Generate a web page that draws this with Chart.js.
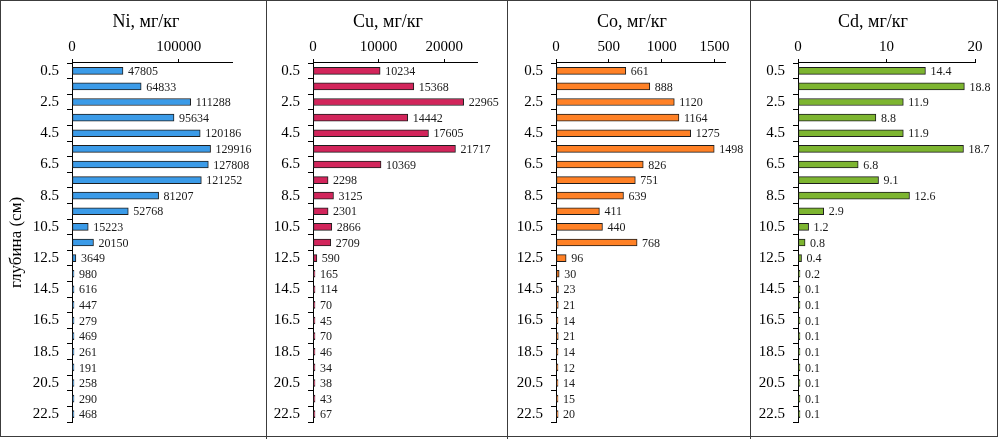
<!DOCTYPE html>
<html>
<head>
<meta charset="utf-8">
<script src="https://cdn.jsdelivr.net/npm/chart.js@4.4.1/dist/chart.umd.min.js"></script>
<style>
html,body{margin:0;padding:0;background:#fff;}
#wrap{position:relative;width:1000px;height:439px;overflow:hidden;background:#fff;}
canvas{position:absolute;top:0;}
.frame{position:absolute;left:0;top:0;width:996px;height:435px;border:1.5px solid #3c3c3c;}
.sep{position:absolute;top:0;height:439px;width:0;border-left:1.5px solid #3c3c3c;}
</style>
</head>
<body>
<div id="wrap">
  <div class="frame"></div>
  <div class="sep" style="left:266px"></div>
  <div class="sep" style="left:507px"></div>
  <div class="sep" style="left:750px"></div>
  <canvas id="c0" width="266" height="439" style="left:0px"></canvas>
  <canvas id="c1" width="242" height="439" style="left:266px"></canvas>
  <canvas id="c2" width="242" height="439" style="left:508px"></canvas>
  <canvas id="c3" width="248" height="439" style="left:750px"></canvas>
</div>
<script>
// ---- data ----
const depthLabels = ['0.5','1.5','2.5','3.5','4.5','5.5','6.5','7.5','8.5','9.5','10.5','11.5',
                     '12.5','13.5','14.5','15.5','16.5','17.5','18.5','19.5','20.5','21.5','22.5'];
const niValues = [47805, 64833, 111288, 95634, 120186, 129916, 127808, 121252, 81207, 52768, 15223, 20150,
                  3649, 980, 616, 447, 279, 469, 261, 191, 258, 290, 468];
const cuValues = [10234, 15368, 22965, 14442, 17605, 21717, 10369, 2298, 3125, 2301, 2866, 2709,
                  590, 165, 114, 70, 45, 70, 46, 34, 38, 43, 67];
const coValues = [661, 888, 1120, 1164, 1275, 1498, 826, 751, 639, 411, 440, 768,
                  96, 30, 23, 21, 14, 21, 14, 12, 14, 15, 20];
const cdValues = [14.4, 18.8, 11.9, 8.8, 11.9, 18.7, 6.8, 9.1, 12.6, 2.9, 1.2, 0.8,
                  0.4, 0.2, 0.1, 0.1, 0.1, 0.1, 0.1, 0.1, 0.1, 0.1, 0.1];
const panelTitles = ['Ni, мг/кг', 'Cu, мг/кг', 'Co, мг/кг', 'Cd, мг/кг'];
const yAxisTitle = 'глубина (см)';

const SERIF = "'Liberation Serif','Times New Roman',serif";

const valueLabels = {
  id: 'valueLabels',
  afterDatasetsDraw(chart) {
    const ctx = chart.ctx;
    const ds = chart.data.datasets[0];
    const meta = chart.getDatasetMeta(0);
    ctx.save();
    ctx.font = '12px ' + SERIF;
    ctx.fillStyle = '#1a1a1a';
    ctx.textBaseline = 'middle';
    ctx.textAlign = 'left';
    meta.data.forEach((el, i) => {
      ctx.fillText(String(ds.data[i]), el.x + 5, el.y + 1);
    });
    ctx.restore();
  }
};

function makePanel(id, values, title, color, xMax, xStep, padL, padR, rightW, showYTitle) {
  const yScale = {
    type: 'category',
    offset: true,
    grid: { offset: true, drawOnChartArea: false, drawTicks: true, tickLength: 5, color: '#000', lineWidth: 1 },
    border: { display: true, color: '#000', width: 1 },
    ticks: {
      autoSkip: false, color: '#000', padding: 8,
      font: { family: SERIF, size: 15 },
      callback: function (v, i) { return i % 2 === 0 ? this.getLabelForValue(v) : ''; }
    },
    afterFit: s => { s.width = 42; }
  };
  if (showYTitle) {
    yScale.title = {
      display: true, text: yAxisTitle, color: '#000',
      font: { family: SERIF, size: 17 },
      padding: { top: -24, bottom: 0 }
    };
  }
  return new Chart(document.getElementById(id), {
    type: 'bar',
    data: {
      labels: depthLabels,
      datasets: [{
        data: values,
        backgroundColor: color,
        borderColor: '#1e1e1e',
        borderWidth: 1,
        borderSkipped: false,
        barThickness: 7,
        minBarLength: 2
      }]
    },
    options: {
      indexAxis: 'y',
      responsive: false,
      animation: false,
      layout: { padding: { left: padL, right: padR, top: 0, bottom: 16 } },
      plugins: {
        legend: { display: false },
        tooltip: { enabled: false },
        title: {
          display: true, text: title, color: '#000',
          font: { family: SERIF, size: 18, weight: 'normal' },
          padding: { top: 11, bottom: 0 }
        }
      },
      scales: {
        x: {
          type: 'linear', position: 'top', min: 0, max: xMax,
          grid: { drawOnChartArea: false, drawTicks: true, tickLength: 4, color: '#000' },
          border: { display: true, color: '#000', width: 1 },
          ticks: {
            autoSkip: false, maxRotation: 0, color: '#000', padding: 3,
            font: { family: SERIF, size: 15 },
            callback: v => String(v)
          },
          afterBuildTicks: s => {
            const t = [];
            for (let k = 0; k * xStep <= xMax + 1e-9; k++) t.push({ value: k * xStep });
            s.ticks = t;
          },
          afterFit: s => { s.height = 63 - 32.6; }
        },
        y: yScale,
        // spacer on the right side of the plot area (keeps the plot narrower than the title box)
        spacer: {
          type: 'linear', position: 'right', display: true,
          grid: { display: false }, border: { display: false }, ticks: { display: false },
          afterFit: s => { s.width = rightW; }
        }
      }
    },
    plugins: [valueLabels]
  });
}

makePanel('c0', niValues, panelTitles[0], '#3b9be8', 150000, 100000, 30, 4, 30, true);
makePanel('c1', cuValues, panelTitles[1], '#d2255b', 25000, 10000, 5, 3, 28, false);
makePanel('c2', coValues, panelTitles[2], '#ff8126', 1600, 500, 6, 0, 25, false);
makePanel('c3', cdValues, panelTitles[3], '#7db530', 20, 10, 6, 8, 15, false);
</script>
</body>
</html>
